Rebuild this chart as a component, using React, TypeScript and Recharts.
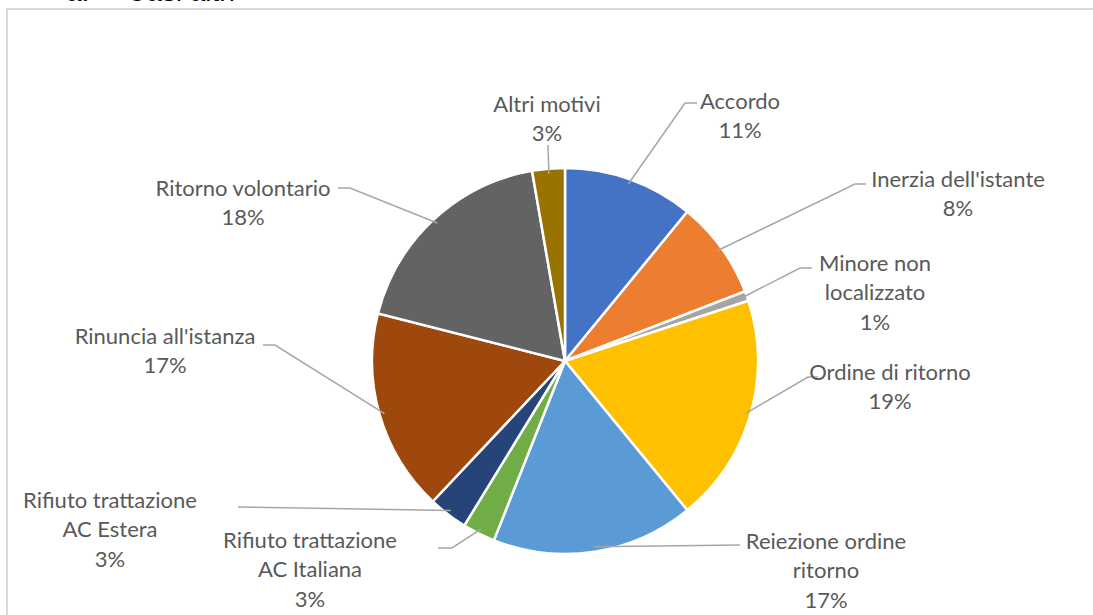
import { PieChart, Pie, Cell } from "recharts";

// categories and values (clockwise from 12 o'clock)
const categories = [
  "Accordo",
  "Inerzia dell'istante",
  "Minore non localizzato",
  "Ordine di ritorno",
  "Reiezione ordine ritorno",
  "Rifiuto trattazione AC Italiana",
  "Rifiuto trattazione AC Estera",
  "Rinuncia all'istanza",
  "Ritorno volontario",
  "Altri motivi",
];
const values = [40, 30, 3, 70, 62, 10, 12, 62, 67, 10];
const colors = [
  "#4472C4",
  "#ED7D31",
  "#A5A5A5",
  "#FFC000",
  "#5B9BD5",
  "#70AD47",
  "#264478",
  "#9E480E",
  "#636363",
  "#997300",
];
// how each label is wrapped, as in the original
const labelLines = [
  ["Accordo"],
  ["Inerzia dell'istante"],
  ["Minore non", "localizzato"],
  ["Ordine di ritorno"],
  ["Reiezione ordine", "ritorno"],
  ["Rifiuto trattazione", "AC Italiana"],
  ["Rifiuto trattazione", "AC Estera"],
  ["Rinuncia all'istanza"],
  ["Ritorno volontario"],
  ["Altri motivi"],
];

// label placement (text centre, first line centre, leader elbow and end)
const labelLayout = [
  { tx: 740, ty: 100, ex: 685, ey: 103, fx: 697, fy: 103 },
  { tx: 958, ty: 178, ex: 855, ey: 184, fx: 866, fy: 184 },
  { tx: 875, ty: 262, ex: 800, ey: 268, fx: 812, fy: 268 },
  { tx: 890, ty: 371, ex: 808, ey: 377, fx: 818, fy: 377 },
  { tx: 826, ty: 540, ex: 740, ey: 545, fx: 740, fy: 545 },
  { tx: 310, ty: 539, ex: 452, ey: 548, fx: 438, fy: 548 },
  { tx: 110, ty: 499, ex: 238, ey: 507, fx: 238, fy: 507 },
  { tx: 165, ty: 335, ex: 275, ey: 345, fx: 263, fy: 345 },
  { tx: 243, ty: 187, ex: 350, ey: 188, fx: 338, fy: 188 },
  { tx: 547, ty: 103, ex: 548, ey: 145, fx: 548, fy: 145 },
];

const data = categories.map((name, i) => ({ name, value: values[i] }));

const RAD = Math.PI / 180;
const LINE_H = 29.5;

interface LabelProps {
  cx: number;
  cy: number;
  midAngle: number;
  outerRadius: number;
  percent: number;
  index: number;
}

const renderLabel = (props: LabelProps) => {
  const { cx, cy, midAngle, outerRadius, percent, index } = props;
  const r = outerRadius - 5;
  const sx = cx + r * Math.cos(-midAngle * RAD);
  const sy = cy + r * Math.sin(-midAngle * RAD);
  const l = labelLayout[index];
  const lines = [...labelLines[index], `${Math.round(percent * 100)}%`];
  return (
    <g key={`lbl-${index}`}>
      <polyline
        points={`${sx},${sy} ${l.ex},${l.ey} ${l.fx},${l.fy}`}
        fill="none"
        stroke="#a6a6a6"
        strokeWidth={1.5}
      />
      <text
        x={l.tx}
        y={l.ty}
        textAnchor="middle"
        fill="#595959"
        fontSize={22}
        fontFamily="Lato, 'Open Sans', sans-serif"
      >
        {lines.map((t, k) => (
          <tspan key={k} x={l.tx} y={l.ty + k * LINE_H} dominantBaseline="central">
            {t}
          </tspan>
        ))}
      </text>
    </g>
  );
};

export default function App() {
  const titleStyle = {
    position: "absolute" as const,
    top: -24,
    fontFamily: "Arial, 'Liberation Sans', sans-serif",
    fontSize: 28,
    color: "#000",
    whiteSpace: "pre" as const,
  };
  return (
    <div
      style={{
        position: "absolute",
        left: 0,
        top: 0,
        width: 1093,
        height: 615,
        overflow: "hidden",
        background: "#fff",
      }}
    >
      <div style={{ ...titleStyle, left: 66 }}>a.</div>
      <div style={{ ...titleStyle, left: 126 }}>Casi altri</div>
      <div
        style={{
          position: "absolute",
          left: 6,
          top: 8,
          width: 1200,
          height: 800,
          border: "2px solid #d9d9d9",
        }}
      />
      <div style={{ position: "absolute", left: 0, top: 0 }}>
        <PieChart
          width={1093}
          height={615}
          margin={{ top: 0, right: 0, bottom: 0, left: 0 }}
        >
          <Pie
            data={data}
            dataKey="value"
            nameKey="name"
            cx={565}
            cy={361}
            outerRadius={193}
            startAngle={90}
            endAngle={-270}
            stroke="#fff"
            strokeWidth={2.5}
            label={renderLabel}
            labelLine={false}
            isAnimationActive={false}
          >
            {data.map((d, i) => (
              <Cell key={d.name} fill={colors[i]} />
            ))}
          </Pie>
        </PieChart>
      </div>
    </div>
  );
}
